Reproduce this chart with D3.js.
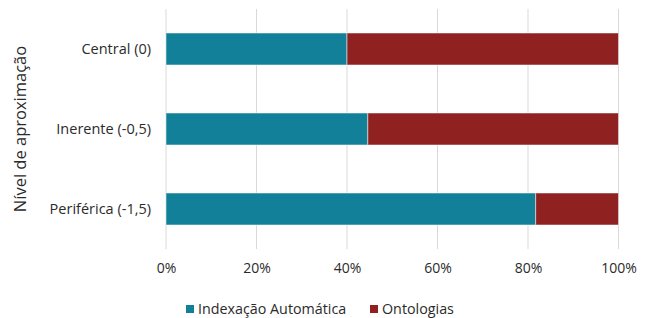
<!DOCTYPE html>
<html><head><meta charset="utf-8">
<script src="https://cdn.jsdelivr.net/npm/d3@7"></script>
<style>body{margin:0;background:#fff}svg{display:block}text{font-family:"Open Sans",sans-serif;fill:#2b2b2b}</style>
</head><body><svg id="c" width="652" height="318"></svg>
<script>
const categories = ["Central (0)", "Inerente (-0,5)", "Periférica (-1,5)"];
const seriesNames = ["Indexação Automática", "Ontologias"];
const indexacao = [40, 44.6, 81.7];
const ontologias = [60, 55.4, 18.3];
const tickValues = [0, 20, 40, 60, 80, 100];
const colors = ["#13809A", "#8F2121"];

const svg = d3.select("#c");
const m = {left:166, right:652-618.5, top:9, bottom:318-249};
const W = 652, H = 318;
const x = d3.scaleLinear().domain([0,100]).range([m.left, W-m.right]);
const y = d3.scaleBand().domain(categories).range([m.top, H-m.bottom]).paddingInner(0.6).paddingOuter(0.3);

svg.append("g").selectAll("line").data(tickValues).join("line")
  .attr("x1", d=>x(d)).attr("x2", d=>x(d)).attr("y1", m.top).attr("y2", H-m.bottom)
  .attr("stroke", "#d9d9d9").attr("stroke-width", 1);

const rows = categories.map((c,i)=>({cat:c, vals:[indexacao[i], ontologias[i]]}));
const stack = d3.stack().keys([0,1]).value((d,k)=>d.vals[k]);
const layers = stack(rows);
svg.append("g").selectAll("g").data(layers).join("g")
  .attr("fill", (d,i)=>colors[i])
  .selectAll("rect").data(d=>d).join("rect")
  .attr("x", d=>x(d[0])).attr("width", d=>x(d[1])-x(d[0]))
  .attr("y", d=>y(d.data.cat)).attr("height", y.bandwidth())
  .attr("stroke", "#ffffff").attr("stroke-opacity", 0.5).attr("stroke-width", 1);

const xa = svg.append("g").attr("transform", `translate(0,${H-m.bottom})`)
  .call(d3.axisBottom(x).tickValues(tickValues).tickFormat(d=>d+"%").tickSize(0).tickPadding(14));
xa.select(".domain").remove();
xa.selectAll("text").style("font-size","14px").style("font-family",'"Open Sans",sans-serif').attr("fill","#2b2b2b");

const ya = svg.append("g").attr("transform", `translate(${m.left},0)`)
  .call(d3.axisLeft(y).tickSize(0).tickPadding(15));
ya.select(".domain").remove();
ya.selectAll("text").style("font-size","14.5px").style("font-family",'"Open Sans",sans-serif').attr("fill","#2b2b2b");

svg.append("text").attr("transform", "translate(26,129) rotate(-90)")
  .attr("text-anchor","middle").style("font-size","16.5px").text("Nível de aproximação");

const lx = [186, 370];
const lg = svg.append("g").selectAll("g").data(seriesNames).join("g")
  .attr("transform", (d,i)=>`translate(${lx[i]},305)`);
lg.append("rect").attr("width",8).attr("height",8).attr("fill",(d,i)=>colors[i]);
lg.append("text").attr("x",12).attr("y",9).style("font-size","14.3px").text(d=>d);
</script></body></html>
